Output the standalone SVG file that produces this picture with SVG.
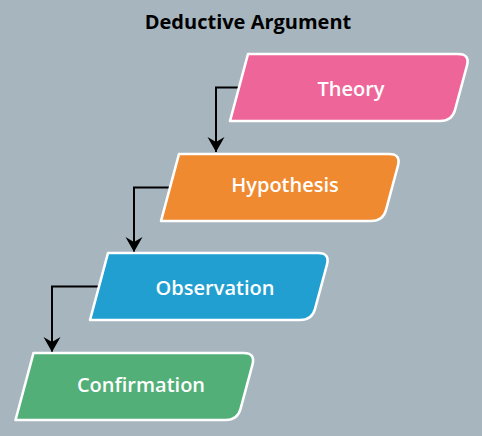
<svg xmlns="http://www.w3.org/2000/svg" width="482" height="436" viewBox="0 0 482 436">
<style>
.bg{fill:#A7B5BF}
.box{stroke:#FFFFFF;stroke-width:2.6;stroke-linejoin:round}
.lbl{font-family:"Open Sans","Liberation Sans",sans-serif;font-weight:600;font-size:20px;fill:#FFFFFF;text-anchor:middle}
.title{font-family:"Open Sans","Liberation Sans",sans-serif;font-weight:700;font-size:20px;fill:#000000;text-anchor:middle}
.conn{fill:none;stroke:#000000;stroke-width:2}
</style>
<defs>
<path id="shape" d="M18,0 H228 Q240,0 237,11.5 L225,56 Q222,67 210,67 H0 Z"/>
<marker id="arrow" markerUnits="userSpaceOnUse" markerWidth="20" markerHeight="20" viewBox="-17 -10 20 20" refX="0" refY="0" orient="auto">
<path d="M0,0 L-15,-8.5 L-10,0 L-15,8.5 Z" fill="#000000"/>
</marker>
</defs>
<rect class="bg" x="0" y="0" width="482" height="436"/>
<text class="title" x="248" y="29">Deductive Argument</text>
<g id="connectors">
<path class="conn" d="M238,87.5 H216 V152" marker-end="url(#arrow)"/>
<path class="conn" d="M169,187.5 H134 V252" marker-end="url(#arrow)"/>
<path class="conn" d="M98,286.5 H52 V352" marker-end="url(#arrow)"/>
</g>
<g id="theory">
<use href="#shape" class="box" x="230" y="54" fill="#EE6699"/>
<text class="lbl" x="351" y="96">Theory</text>
</g>
<g id="hypothesis">
<use href="#shape" class="box" x="161" y="154" fill="#F08A30"/>
<text class="lbl" x="285" y="192">Hypothesis</text>
</g>
<g id="observation">
<use href="#shape" class="box" x="90" y="253" fill="#219FD0"/>
<text class="lbl" x="215" y="295">Observation</text>
</g>
<g id="confirmation">
<use href="#shape" class="box" x="15.5" y="353" fill="#52AF78"/>
<text class="lbl" x="141" y="392">Confirmation</text>
</g>
</svg>
